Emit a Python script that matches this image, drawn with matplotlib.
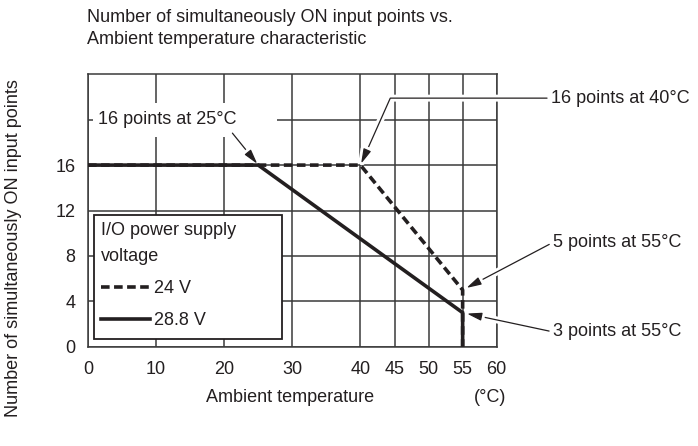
import matplotlib
matplotlib.use('Agg')
import matplotlib.pyplot as plt
from matplotlib.patches import Rectangle
from matplotlib.lines import Line2D
import matplotlib.patheffects as pe

plt.rcParams['font.family'] = ['Liberation Sans', 'DejaVu Sans']
plt.rcParams['font.size'] = 13
plt.rcParams['lines.scale_dashes'] = False

INK = '#231f20'
GRID = '#3a3a3a'

# Derating curves: simultaneously ON input points vs. ambient temperature
temp_24v = [0, 40, 55, 55]
points_24v = [16, 16, 5, 0]
temp_288v = [0, 25, 55, 55]
points_288v = [16, 16, 3, 0]

x_ticks = [0, 10, 20, 30, 40, 45, 50, 55, 60]
y_ticks = [0, 4, 8, 12, 16, 20]
y_tick_labels = ['0', '4', '8', '12', '16', '']
series_labels = ['24 V', '28.8 V']
legend_title = 'I/O power supply\nvoltage'
title_lines = ['Number of simultaneously ON input points vs.',
               'Ambient temperature characteristic']
y_label = 'Number of simultaneously ON input points'
x_label = 'Ambient temperature'
x_unit = '(°C)'

W, H = 698, 446
fig = plt.figure(figsize=(W / 100, H / 100), dpi=100)
ax = fig.add_axes([88 / W, 1 - 346.7 / H, (496.7 - 88) / W, (346.7 - 74.3) / H])
ax.set_xlim(0, 60)
ax.set_ylim(0, 24)

ax.set_xticks(x_ticks)
ax.set_yticks(y_ticks)
ax.set_yticklabels(y_tick_labels)
ax.tick_params(length=0, colors=INK, labelsize=13)
ax.tick_params(axis='x', pad=10)
ax.tick_params(axis='y', pad=9)
ax.grid(True, color=GRID, lw=1.1, zorder=0.5)
ax.set_axisbelow(True)
for sp in ax.spines.values():
    sp.set_color(GRID)
    sp.set_linewidth(1.1)

halo = [pe.withStroke(linewidth=5, foreground='white')]
dash = (0, (6.2, 3.2))

ax.plot(temp_24v, points_24v, color=INK, lw=2.6, linestyle=dash,
        solid_joinstyle='miter', zorder=4)
ax.plot(temp_288v, points_288v, color=INK, lw=2.6, zorder=4.5,
        solid_joinstyle='miter', solid_capstyle='butt')

# white plate behind the in-plot callout text
ax.add_patch(Rectangle((0.75, 18.5), 27.0, 3.0, facecolor='white',
                       edgecolor='none', zorder=1))

arrow = dict(arrowstyle='-|>,head_length=0.75,head_width=0.2',
             mutation_scale=12, color=INK, lw=0.9, shrinkA=2, shrinkB=1,
             path_effects=halo)

ax.annotate('16 points at 25°C', xy=(temp_288v[1], points_288v[1]),
            xytext=(1.5, 20.0), ha='left', va='center', color=INK,
            arrowprops=dict(arrow, relpos=(0.94, 0.0)), zorder=3)

ax.annotate('16 points at 40°C', xy=(temp_24v[1], points_24v[1]),
            xytext=(68.0, 21.9), ha='left', va='center', color=INK,
            annotation_clip=False,
            arrowprops=dict(arrow, relpos=(0.0, 0.5), shrinkA=1,
                            connectionstyle='angle,angleA=180,angleB=66,rad=0'),
            zorder=3)

ax.annotate('5 points at 55°C', xy=(temp_24v[2], points_24v[2]),
            xytext=(68.3, 9.2), ha='left', va='center', color=INK,
            annotation_clip=False,
            arrowprops=dict(arrow, relpos=(0.0, 0.5), shrinkA=1, shrinkB=3),
            zorder=3)

ax.annotate('3 points at 55°C', xy=(temp_288v[2], points_288v[2]),
            xytext=(68.3, 1.3), ha='left', va='center', color=INK,
            annotation_clip=False,
            arrowprops=dict(arrow, relpos=(0.0, 0.5), shrinkA=1, shrinkB=3),
            zorder=3)

# legend box
ax.add_patch(Rectangle((0.0147, 0.0283), 0.46, 0.4552, transform=ax.transAxes,
                       facecolor='white', edgecolor=INK, lw=1.3, zorder=5))
handles = [Line2D([], [], color=INK, lw=2.6, linestyle=dash),
           Line2D([], [], color=INK, lw=2.6)]
leg = ax.legend(handles, series_labels, title=legend_title, loc='upper left',
                bbox_to_anchor=(0.0147, 0.4835), borderaxespad=0, frameon=False,
                handlelength=2.7, handletextpad=0.25, labelspacing=0.85,
                borderpad=0.4, alignment='left', title_fontsize=13,
                labelcolor=INK)
leg.get_title().set_color(INK)
leg.get_title().set_linespacing(1.65)
leg.set_zorder(6)

fig.text(87 / W, 1 - 17 / H, title_lines[0], ha='left', va='center', color=INK)
fig.text(87 / W, 1 - 40 / H, title_lines[1], ha='left', va='center', color=INK)
fig.text(14 / W, 1 - 248 / H, y_label, rotation=90, ha='center', va='center', color=INK)
fig.text(290 / W, 1 - 397 / H, x_label, ha='center', va='center', color=INK)
fig.text(490 / W, 1 - 397 / H, x_unit, ha='center', va='center', color=INK)

fig.savefig('out.png', dpi=100)
